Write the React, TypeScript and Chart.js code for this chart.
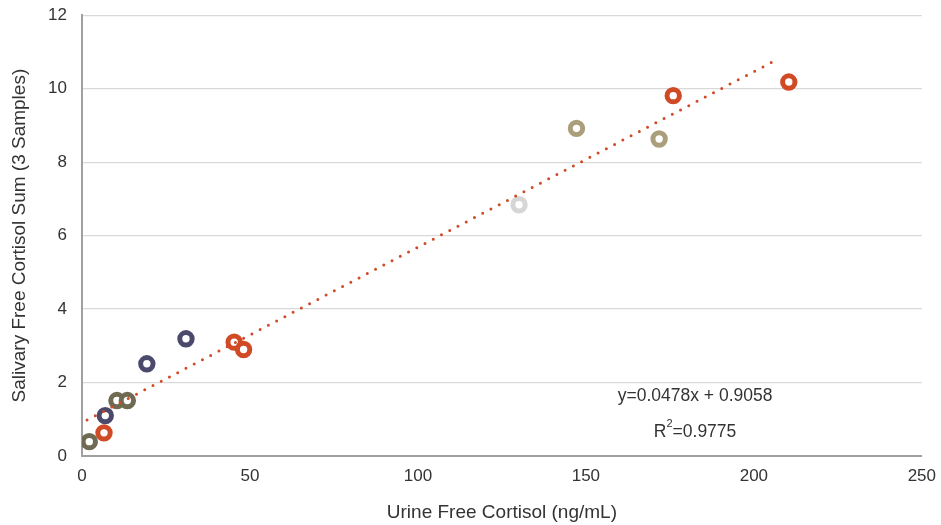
import React, { useEffect, useRef } from "react";
import { Chart, registerables } from "chart.js";

Chart.register(...registerables);

const orangeX = [6.55, 45.3, 48.1, 176.0, 210.4];
const orangeY = [0.63, 3.1, 2.9, 9.81, 10.18];
const navyX = [6.93, 19.3, 30.95];
const navyY = [1.1, 2.51, 3.19];
const oliveX = [2.17, 10.4, 13.5];
const oliveY = [0.39, 1.51, 1.51];
const tanX = [147.2, 171.8];
const tanY = [8.92, 8.63];
const grayX = [130.1];
const grayY = [6.84];
const trendX = [1.5, 206];
const trendY = [0.98, 10.75];

const equationText = "y=0.0478x + 0.9058";
const r2Value = "=0.9775";
const xTitle = "Urine Free Cortisol (ng/mL)";
const yTitle = "Salivary Free Cortisol Sum (3 Samples)";

const FONT = "'Liberation Sans', Arial, sans-serif";

const zip = (xs: number[], ys: number[]) => xs.map((x, i) => ({ x, y: ys[i] }));

const ringDs = (label: string, xs: number[], ys: number[], color: string) => ({
  label,
  type: "scatter" as const,
  data: zip(xs, ys),
  borderColor: color,
  backgroundColor: "#ffffff",
  pointRadius: 6.2,
  pointHoverRadius: 6.2,
  pointBorderWidth: 5,
  showLine: false,
  order: 2,
});

const annotationPlugin = {
  id: "eqAnnot",
  afterDatasetsDraw(chart: any) {
    const { ctx, scales } = chart;
    const cx = scales.x.getPixelForValue(182.5);
    const y1 = scales.y.getPixelForValue(1.62);
    const y2 = scales.y.getPixelForValue(0.65);
    ctx.save();
    ctx.fillStyle = "#333333";
    ctx.textBaseline = "middle";
    ctx.font = `17.5px ${FONT}`;
    ctx.textAlign = "center";
    ctx.fillText(equationText, cx, y1);
    const rW = ctx.measureText("R").width;
    ctx.font = `11px ${FONT}`;
    const sW = ctx.measureText("2").width;
    ctx.font = `17.5px ${FONT}`;
    const restW = ctx.measureText(r2Value).width;
    const total = rW + sW + restW;
    let x = cx - total / 2;
    ctx.textAlign = "left";
    ctx.fillText("R", x, y2);
    x += rW;
    ctx.font = `11px ${FONT}`;
    ctx.fillText("2", x, y2 - 8);
    x += sW;
    ctx.font = `17.5px ${FONT}`;
    ctx.fillText(r2Value, x, y2);
    ctx.restore();
  },
};

export default function App() {
  const ref = useRef<HTMLCanvasElement>(null);

  useEffect(() => {
    document.body.style.margin = "0";
    const canvas = ref.current;
    if (!canvas) return;
    const chart = new Chart(canvas, {
      type: "scatter",
      data: {
        datasets: [
          ringDs("olive", oliveX, oliveY, "#6f6a51"),
          ringDs("navy", navyX, navyY, "#4b4a6d"),
          ringDs("orange", orangeX, orangeY, "#d04a26"),
          ringDs("tan", tanX, tanY, "#ab9f7b"),
          ringDs("gray", grayX, grayY, "#d6d6d6"),
          {
            label: "trend",
            type: "line" as const,
            data: zip(trendX, trendY),
            borderColor: "#d04a26",
            borderWidth: 3,
            borderDash: [0, 9.3],
            borderCapStyle: "round",
            pointRadius: 0,
            fill: false,
            order: 1,
          } as any,
        ],
      },
      options: {
        animation: false,
        responsive: false,
        maintainAspectRatio: false,
        layout: { padding: { top: 5, right: 14, left: 0, bottom: 0 } },
        plugins: {
          legend: { display: false },
          tooltip: { enabled: false },
        },
        scales: {
          x: {
            type: "linear",
            min: 0,
            max: 250,
            afterFit: (s: any) => {
              s.height = 69;
            },
            ticks: {
              stepSize: 50,
              padding: 10,
              color: "#333333",
              font: { family: FONT, size: 17 },
            },
            grid: { display: false, drawTicks: false },
            border: { display: true, color: "#a0a0a0", width: 2 },
            title: {
              display: true,
              text: xTitle,
              color: "#333333",
              font: { family: FONT, size: 19, lineHeight: 1.2 },
              padding: { top: 0, bottom: 1 },
            },
          },
          y: {
            type: "linear",
            min: 0,
            max: 12,
            afterFit: (s: any) => {
              s.width = 82;
            },
            ticks: {
              stepSize: 2,
              padding: 15,
              color: "#333333",
              font: { family: FONT, size: 17 },
            },
            grid: { color: "#d9d9d9", lineWidth: 1.2, drawTicks: false },
            border: { display: true, color: "#a0a0a0", width: 2 },
            title: {
              display: true,
              text: yTitle,
              color: "#333333",
              font: { family: FONT, size: 19, lineHeight: 1.2 },
              padding: { top: 8, bottom: 0 },
            },
          },
        },
      },
      plugins: [annotationPlugin],
    } as any);
    return () => chart.destroy();
  }, []);

  return (
    <div style={{ width: 941, height: 525, overflow: "hidden", background: "#ffffff" }}>
      <canvas
        ref={ref}
        width={946}
        height={535}
        style={{ display: "block", marginTop: -10 }}
      />
    </div>
  );
}
